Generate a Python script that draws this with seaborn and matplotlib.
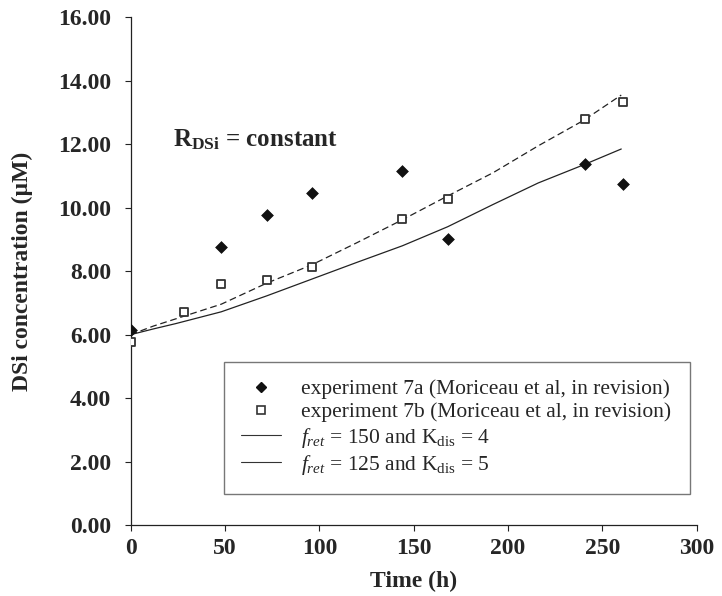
import numpy as np
import pandas as pd
import seaborn as sns
import matplotlib.pyplot as plt
from matplotlib.lines import Line2D

time_7a = [0, 48, 72, 96, 144, 168, 241, 261]
dsi_7a = [6.15, 8.77, 9.77, 10.46, 11.15, 9.0, 11.38, 10.76]

time_7b = [0, 28, 48, 72, 96, 144, 168, 241, 261]
dsi_7b = [5.77, 6.70, 7.60, 7.72, 8.14, 9.63, 10.29, 12.79, 13.33]

# model curves
time_model = [0, 12, 24, 48, 72, 96, 120, 144, 168, 192, 216, 240, 260]
dsi_150_4 = [6.0, 6.27, 6.5, 6.96, 7.62, 8.2, 8.9, 9.62, 10.37, 11.1, 11.95, 12.75, 13.55]
dsi_125_5 = [6.0, 6.18, 6.35, 6.72, 7.22, 7.75, 8.28, 8.8, 9.4, 10.1, 10.78, 11.35, 11.85]

labels = ['experiment 7a (Moriceau et al, in revision)',
          'experiment 7b (Moriceau et al, in revision)',
          r'$f_{ret}$ = 150 and K$_{\mathrm{dis}}$ = 4',
          r'$f_{ret}$ = 125 and K$_{\mathrm{dis}}$ = 5']

sns.set_theme(style='ticks')
plt.rcParams['font.family'] = ['Liberation Serif', 'DejaVu Serif']
plt.rcParams['mathtext.fontset'] = 'custom'
plt.rcParams['mathtext.rm'] = 'Liberation Serif'
plt.rcParams['mathtext.it'] = 'Liberation Serif:italic'
plt.rcParams['mathtext.bf'] = 'Liberation Serif:bold'

fig = plt.figure(figsize=(7.22, 5.96), dpi=100)
ax = fig.add_axes([0.181, 0.119, 0.784, 0.852])

df_model = pd.DataFrame({'t': time_model, 'a': dsi_150_4, 'b': dsi_125_5})
sns.lineplot(data=df_model, x='t', y='a', ax=ax, color='#222222', lw=0.9,
             linestyle=(0, (5.4, 3)))
sns.lineplot(data=df_model, x='t', y='b', ax=ax, color='#222222', lw=0.9)

sns.scatterplot(x=time_7a, y=dsi_7a, ax=ax, marker='D', s=36, color='#111111',
                edgecolor='#111111', linewidth=0.5, zorder=5)
sns.scatterplot(x=time_7b, y=dsi_7b, ax=ax, marker='s', s=34, facecolor='white',
                edgecolor='#333333', linewidth=1.3, zorder=5)

ax.set_xlim(0, 300)
ax.set_ylim(0, 16)
ax.set_xticks(np.arange(0, 301, 50))
ax.set_yticks(np.arange(0, 16.1, 2))
ax.set_yticklabels([f'{v:.2f}' for v in np.arange(0, 16.1, 2)])
for lab in ax.get_xticklabels() + ax.get_yticklabels():
    lab.set_fontweight('bold')
    lab.set_fontsize(17)
ax.tick_params(direction='out', length=4, width=0.8, color='#222222')
ax.tick_params(axis='y', pad=10)
ax.tick_params(axis='x', pad=5)
sns.despine(ax=ax)
for sp in ['left', 'bottom']:
    ax.spines[sp].set_linewidth(0.9)
    ax.spines[sp].set_color('#222222')

ax.set_xlabel('Time (h)', fontsize=17, fontweight='bold', labelpad=9)
ax.set_ylabel('DSi concentration (µM)', fontsize=17, fontweight='bold', labelpad=18)

ax.text(22.5, 12.15, r'$\mathbf{R_{DSi}}$ = constant', fontsize=18, fontweight='bold',
        va='center', ha='left')

handles = [Line2D([], [], marker='D', ls='none', color='#111111', markersize=5),
           Line2D([], [], marker='s', ls='none', mfc='white', mec='#333333', mew=1.2, markersize=6),
           Line2D([], [], color='#333333', lw=0.8),
           Line2D([], [], color='#333333', lw=0.8)]
leg = ax.legend(handles, labels, loc='lower left', bbox_to_anchor=(0.165, 0.061, 0.823, 0.267),
                mode='expand', fontsize=15.5, frameon=True, fancybox=False, edgecolor='#555555',
                handlelength=1.85, handletextpad=0.9, borderpad=0.8, labelspacing=0.15,
                borderaxespad=0)
leg.get_frame().set_linewidth(1.0)

fig.savefig('out.png', dpi=100)
